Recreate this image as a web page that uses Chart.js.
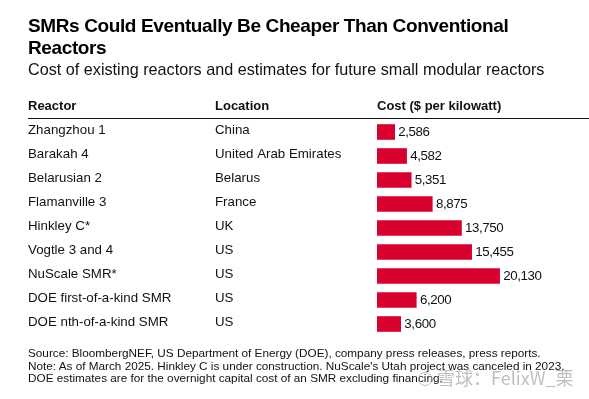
<!DOCTYPE html>
<html>
<head>
<meta charset="utf-8">
<script src="https://cdn.jsdelivr.net/npm/chart.js@4.4.1/dist/chart.umd.min.js"></script>
<style>
  html, body { margin: 0; padding: 0; background: #fff; }
  body { width: 589px; height: 399px; position: relative; overflow: hidden; font-family: "Liberation Sans", Arial, sans-serif; color: #111; }
  #wrap { position: absolute; left: 0; top: 0; width: 589px; height: 399px; }
  .t { position: absolute; white-space: nowrap; }
  #title { left: 28px; top: 15.3px; font-size: 19px; line-height: 21.7px; font-weight: bold; color: #000; letter-spacing: -0.38px; }
  #subtitle { left: 28px; top: 60.3px; font-size: 16.2px; line-height: 18px; color: #111; }
  .hdr { top: 98px; font-size: 13px; line-height: 15px; font-weight: bold; color: #111; }
  #rule { position: absolute; left: 28px; top: 117.5px; width: 561px; height: 1.5px; background: #111; }
  #footer { left: 28px; top: 346.9px; font-size: 11.75px; line-height: 12.7px; color: #111; }
  #wm { left: 418px; top: 367px; font-size: 18px; line-height: 21px; color: rgba(170,170,170,0.75); font-family: "Noto Sans CJK SC", "Liberation Sans", sans-serif; }
  #wm .c { display: inline-block; width: 12px; height: 12px; border: 1.5px solid rgba(170,170,170,0.75); border-radius: 50%; vertical-align: -1px; margin-right: 5px; }
</style>
</head>
<body>
<div id="wrap"><canvas id="c"></canvas></div>
<div class="t" id="title">SMRs Could Eventually Be Cheaper Than Conventional<br>Reactors</div>
<div class="t" id="subtitle">Cost of existing reactors and estimates for future small modular reactors</div>
<div class="t hdr" style="left:28px">Reactor</div>
<div class="t hdr" style="left:215px">Location</div>
<div class="t hdr" style="left:377px">Cost ($ per kilowatt)</div>
<div id="rule"></div>
<div class="t" id="footer">Source: BloombergNEF, US Department of Energy (DOE), company press releases, press reports.<br>Note: As of March 2025. Hinkley C is under construction. NuScale's Utah project was canceled in 2023.<br>DOE estimates are for the overnight capital cost of an SMR excluding financing.</div>
<div class="t" id="wm"><span class="c"></span>雪球：FelixW_栗</div>
<script>
const reactors = ["Zhangzhou 1", "Barakah 4", "Belarusian 2", "Flamanville 3", "Hinkley C*", "Vogtle 3 and 4", "NuScale SMR*", "DOE first-of-a-kind SMR", "DOE nth-of-a-kind SMR"];
const locations = ["China", "United Arab Emirates", "Belarus", "France", "UK", "US", "US", "US", "US"];
const costs = [2586, 4582, 5351, 8875, 13750, 15455, 20130, 6200, 3600];

const tablePlugin = {
  id: 'tableText',
  afterDatasetsDraw(chart) {
    const ctx = chart.ctx;
    const y = chart.scales.y;
    const meta = chart.getDatasetMeta(0);
    ctx.save();
    ctx.textBaseline = 'alphabetic';
    ctx.fillStyle = '#111';
    ctx.font = '13.3px "Liberation Sans", Arial, sans-serif';
    reactors.forEach((r, i) => {
      const cy = y.getPixelForValue(i);
      ctx.textAlign = 'left';
      try { ctx.letterSpacing = '0px'; } catch (e) {}
      ctx.fillText(r, 28, cy + 2.3);
      ctx.fillText(locations[i], 215, cy + 2.3);
      const bar = meta.data[i];
      try { ctx.letterSpacing = '-0.4px'; } catch (e) {}
      ctx.fillText(costs[i].toLocaleString('en-US'), bar.x + 3.3, cy + 4.2);
    });
    ctx.restore();
  }
};

new Chart(document.getElementById('c'), {
  type: 'bar',
  data: {
    labels: reactors,
    datasets: [{
      data: costs,
      base: -420,
      backgroundColor: '#d7002f',
      borderWidth: 0,
      barPercentage: 0.65,
      categoryPercentage: 1.0
    }]
  },
  options: {
    indexAxis: 'y',
    responsive: true,
    maintainAspectRatio: false,
    animation: false,
    layout: { padding: { left: 377, right: 30, top: 120, bottom: 63 } },
    plugins: { legend: { display: false }, title: { display: false }, tooltip: { enabled: false } },
    scales: {
      x: { display: false, min: -420, max: 30000 },
      y: { display: false }
    }
  },
  plugins: [tablePlugin]
});
</script>
</body>
</html>
